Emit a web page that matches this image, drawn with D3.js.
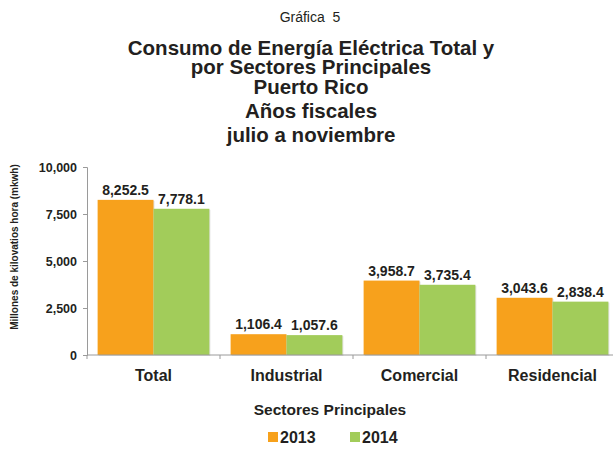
<!DOCTYPE html>
<html><head><meta charset="utf-8">
<script src="https://cdn.jsdelivr.net/npm/d3@7"></script>
<style>body{margin:0;background:#fff}svg{display:block}text{font-family:Arial,"Liberation Sans",Helvetica,sans-serif;fill:#231f20}</style>
</head><body><svg id="c" width="613" height="449"></svg>
<script>
const categories = ["Total","Industrial","Comercial","Residencial"];
const seriesNames = ["2013","2014"];
const values2013 = [8252.5,1106.4,3958.7,3043.6];
const values2014 = [7778.1,1057.6,3735.4,2838.4];
const yTicks = [0,2500,5000,7500,10000];
const colors = ["#F7A11C","#A2CC5A"];
const titleLines = ["Consumo de Energía Eléctrica Total y","por Sectores Principales","Puerto Rico","Años fiscales","julio a noviembre"];

const svg = d3.select("#c");
const m = {l:87, r:619, t:167, b:355};
const x0 = d3.scaleBand().domain(categories).range([m.l,m.r]).padding(0);
const x1 = d3.scaleBand().domain(seriesNames).range([0,x0.bandwidth()]).paddingOuter(0.19).paddingInner(0);
const y = d3.scaleLinear().domain([0,10000]).range([m.b,m.t]);
const fmt = d3.format(",.1f");

svg.append("text").attr("x",310).attr("y",22).attr("text-anchor","middle").style("font-size","14px").style("white-space","pre").text("Gráfica  5");
const ty=[55,74,94,118,142];
titleLines.forEach((t,i)=>svg.append("text").attr("x",311).attr("y",ty[i]).attr("text-anchor","middle").style("font-size","20.5px").style("font-weight","bold").text(t));

// y axis
const ya = svg.append("g").attr("transform",`translate(${m.l},0)`).call(d3.axisLeft(y).tickValues(yTicks).tickFormat(d3.format(",")).tickSize(4).tickPadding(6));
ya.select(".domain").attr("stroke","#9a9a9a");
ya.selectAll(".tick line").attr("stroke","#9a9a9a");
ya.selectAll("text").style("font-size","12.5px").style("font-weight","bold").attr("fill","#231f20");

// bars
const data = categories.map((c,i)=>({c, v:[values2013[i],values2014[i]]}));
const g = svg.append("g");
data.forEach(d=>{
  d.v.forEach((v,j)=>{
    const xx = x0(d.c)+x1(seriesNames[j]);
    g.append("rect").attr("x",xx+1).attr("y",y(v)+1).attr("width",x1.bandwidth()).attr("height",m.b-y(v)).attr("fill","#d0d0d0").attr("opacity",0.6);
    g.append("rect").attr("x",xx).attr("y",y(v)).attr("width",x1.bandwidth()).attr("height",m.b-y(v)).attr("fill",colors[j]);
    g.append("text").attr("x",xx+x1.bandwidth()/2).attr("y",y(v)-5).attr("text-anchor","middle").style("font-size","14px").style("font-weight","bold").text(fmt(v));
  });
});

// x axis
const xa = svg.append("g").attr("transform",`translate(0,${m.b})`);
xa.append("line").attr("x1",m.l).attr("x2",m.r).attr("stroke","#9a9a9a");
categories.forEach((c,i)=>{
  xa.append("line").attr("x1",x0(c)).attr("x2",x0(c)).attr("y1",0).attr("y2",4).attr("stroke","#9a9a9a");
  xa.append("text").attr("x",x0(c)+x0.bandwidth()/2).attr("y",26).attr("text-anchor","middle").style("font-size","16px").style("font-weight","bold").text(c);
});
xa.append("line").attr("x1",m.r).attr("x2",m.r).attr("y1",0).attr("y2",4).attr("stroke","#9a9a9a");

svg.append("text").attr("x",330).attr("y",415).attr("text-anchor","middle").style("font-size","15.5px").style("font-weight","bold").text("Sectores Principales");
svg.append("text").attr("transform","translate(18,247) rotate(-90)").attr("text-anchor","middle").style("font-size","10px").style("font-weight","bold").text("Millones de kilovatios hora (mkwh)");

// legend
const lx=[268,350];
seriesNames.forEach((s,j)=>{
  svg.append("rect").attr("x",lx[j]).attr("y",432).attr("width",10).attr("height",10).attr("fill",colors[j]);
  svg.append("text").attr("x",lx[j]+12).attr("y",443).style("font-size","16px").style("font-weight","bold").text(s);
});
</script></body></html>
